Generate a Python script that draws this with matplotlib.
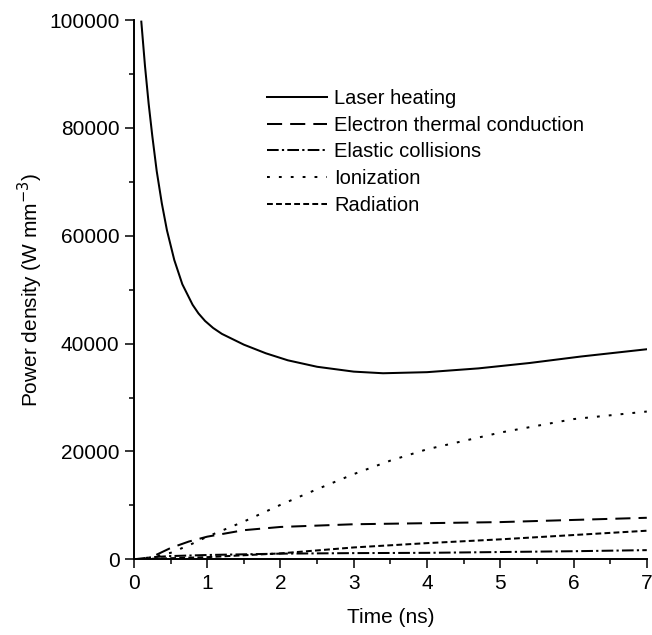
import matplotlib
matplotlib.use('Agg')
import matplotlib.pyplot as plt
from matplotlib.ticker import MultipleLocator

plt.rcParams['font.family'] = ['Liberation Sans', 'DejaVu Sans']

# values
laser_t = [0.10, 0.15, 0.20, 0.25, 0.31, 0.38, 0.45, 0.55, 0.66, 0.80, 0.88, 0.97, 1.08,
           1.2, 1.5, 1.8, 2.1, 2.5, 3.0, 3.4, 4.0, 4.7, 5.4, 6.1, 7.0]
laser = [99700, 91500, 84500, 78500, 72000, 66000, 61000, 55500, 51000, 47200, 45600, 44200, 42900,
         41800, 39800, 38200, 36900, 35700, 34800, 34500, 34700, 35400, 36400, 37600, 38950]

cond_t = [0.0, 0.15, 0.3, 0.5, 0.75, 1.0, 1.5, 2.0, 3.0, 4.0, 5.0, 6.0, 7.0]
conduction = [0, 0, 800, 2100, 3300, 4200, 5400, 6000, 6500, 6700, 6900, 7300, 7700]

elas_t = [0.0, 0.25, 0.5, 1.0, 2.0, 3.0, 4.0, 5.0, 6.0, 7.0]
elastic = [0, 400, 600, 800, 1050, 1150, 1200, 1350, 1500, 1700]

ion_t = [0.0, 0.25, 0.5, 0.75, 1.0, 1.5, 2.0, 2.5, 3.0, 3.5, 4.0, 5.0, 6.0, 7.0]
ionization = [0, 400, 1200, 2600, 4200, 7000, 10100, 13000, 15800, 18300, 20400, 23500, 26000, 27400]

rad_t = [0.0, 1.0, 2.0, 3.0, 4.0, 5.0, 6.0, 7.0]
radiation = [0, 400, 1100, 2200, 3000, 3700, 4500, 5300]

fig = plt.figure(figsize=(6.52, 6.35), dpi=100)
ax = fig.add_axes([0.2055, 0.1192, 0.7865, 0.8493])

lw = 1.45
ax.plot(laser_t, laser, color='black', lw=lw, label='Laser heating')
ax.plot(cond_t, conduction, color='black', lw=lw, dashes=(7.5, 4.0),
        label='Electron thermal conduction')
ax.plot(elas_t, elastic, color='black', lw=lw, dashes=(5.8, 1.6, 1.1, 1.6),
        label='Elastic collisions')
ax.plot(ion_t, ionization, color='black', lw=lw, dashes=(1.4, 4.5), label='Ionization')
ax.plot(rad_t, radiation, color='black', lw=lw, dashes=(2.9, 1.6), label='Radiation')

ax.set_xlim(0, 7)
ax.set_ylim(0, 100000)
ax.xaxis.set_major_locator(MultipleLocator(1))
ax.xaxis.set_minor_locator(MultipleLocator(0.5))
ax.yaxis.set_major_locator(MultipleLocator(20000))
ax.yaxis.set_minor_locator(MultipleLocator(10000))

for side in ['top', 'right']:
    ax.spines[side].set_visible(False)
for side in ['left', 'bottom']:
    ax.spines[side].set_linewidth(1.4)

ax.tick_params(which='major', direction='out', length=6.5, width=1.1, labelsize=15, pad=4)
ax.tick_params(which='minor', direction='out', length=3.6, width=1.1)

ax.set_xlabel('Time (ns)', fontsize=15, labelpad=11)
ax.set_ylabel('Power density (W mm$^{-3}$)', fontsize=15, labelpad=3)

ax.legend(loc='upper left', bbox_to_anchor=(0.259, 0.872), frameon=False,
          fontsize=14.5, handlelength=3.0, handletextpad=0.35, labelspacing=0.38,
          borderpad=0, borderaxespad=0)

fig.savefig('out.png', dpi=100)
